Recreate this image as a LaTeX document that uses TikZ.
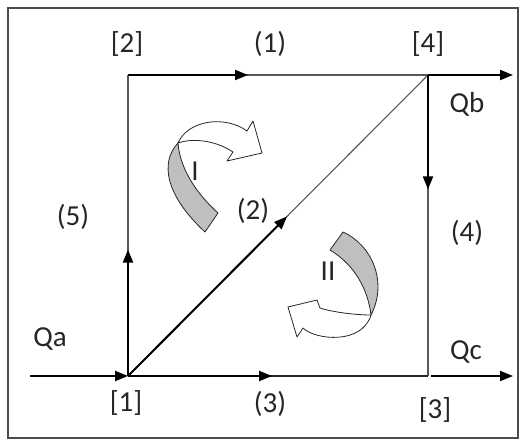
\documentclass[tikz,border=0pt]{standalone}
\usepackage{fontspec}
\setmainfont{Carlito}
\usetikzlibrary{arrows.meta,calc}
\begin{document}
\begin{tikzpicture}[x=1pt,y=-1pt,
  lbl/.style={font=\fontsize{29}{33}\selectfont, text=black!85, inner sep=0pt},
  flow/.style={line width=2pt, draw=black, -{Triangle[length=13pt,width=10pt]}},
  thinline/.style={line width=1.1pt, draw=black!65},
  ribgray/.style={fill=black!25, draw=black!85, line width=0.8pt, line join=round},
  ribwhite/.style={fill=white, draw=black!85, line width=0.8pt, line join=round}]
\useasboundingbox (0,0) rectangle (521,441);
\draw[line width=1.5pt, draw=black!70] (8,8) rectangle (518,438);
% junctions
\coordinate (n1) at (128,376);
\coordinate (n2) at (128,75);
\coordinate (n4) at (428,75);
\coordinate (n3) at (428,376);
\coordinate (qa) at (30,376);
\coordinate (qb) at (513,75);
\coordinate (qcs) at (431,376);
\coordinate (qc) at (513,376);
% thin continuations
\draw[thinline] (n1) -- (n2);
\draw[thinline] (n2) -- (n4);
\draw[thinline] (n1) -- (n4);
\draw[thinline] (n4) -- (n3);
\draw[thinline, draw=black!85] (n1) -- (n3);
% thick flow arrows
\draw[flow] (qa) -- (n1);
\draw[flow] (n4) -- (qb);
\draw[flow] (qcs) -- (qc);
\draw[flow] (n1) -- ($(n1)!0.42!(n2)$);
\draw[flow] (n2) -- ($(n2)!0.40!(n4)$);
\draw[flow] (n1) -- ($(n1)!0.53!(n4)$);
\draw[flow] (n4) -- ($(n4)!0.38!(n3)$);
\draw[flow] (n1) -- ($(n1)!0.48!(n3)$);
% circulation arrow I
\draw[ribgray] (178,143) .. controls (160,162) and (165,195) .. (205,232)
  -- (218,213) .. controls (198,195) and (180,170) .. (178,143) -- cycle;
\draw[ribwhite] (178,143) .. controls (188,120) and (225,115) .. (247,131)
  -- (253,121) -- (262,153) -- (227,161) -- (233,152)
  .. controls (215,140) and (192,138) .. (178,143) -- cycle;
% circulation arrow II
\draw[ribgray] (330,250) -- (343,232) .. controls (372,245) and (388,282) .. (371,315)
  .. controls (368,290) and (355,265) .. (330,250) -- cycle;
\draw[ribwhite] (371,315) .. controls (355,315) and (332,312) .. (320,308)
  -- (317,300) -- (288,307) -- (297,337) -- (303,328)
  .. controls (315,340) and (362,345) .. (371,315) -- cycle;
% labels
\node[lbl] (l2) at (127,44) {[2]};
\node[lbl] (e1) at (270,44) {(1)};
\node[lbl] (l4) at (428,44) {[4]};
\node[lbl] (tqb) at (467,104) {Qb};
\node[lbl] (e5) at (73,217) {(5)};
\node[lbl] (e2) at (253,211) {(2)};
\node[lbl] (e4) at (467,233) {(4)};
\node[lbl] (tqa) at (50,339) {Qa};
\node[lbl] (tqc) at (466,352) {Qc};
\node[lbl] (l1) at (126,403) {[1]};
\node[lbl] (e3) at (270,404) {(3)};
\node[lbl] (l3) at (435,410) {[3]};
\node[lbl] (cI) at (195,171) {I};
\node[lbl] (cII) at (328,271) {II};
\end{tikzpicture}
\end{document}
